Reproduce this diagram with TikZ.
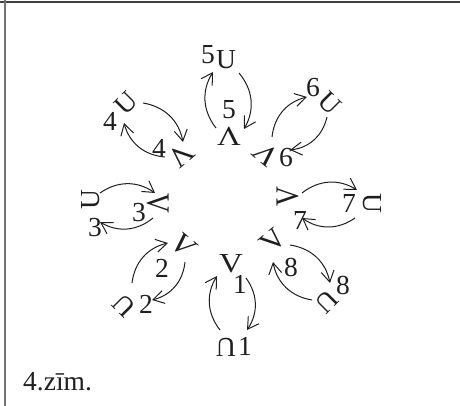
\documentclass[tikz,border=0pt]{standalone}
\usepackage{fontspec}
\setmainfont{Liberation Serif}
\usetikzlibrary{arrows.meta,calc}
\begin{document}
\begin{tikzpicture}[x=1pt,y=1pt,
  every node/.style={inner sep=0pt,font=\fontsize{27.5}{32}\selectfont,text=black!88},
  glyph/.style={},
  vglyph/.style={xscale=1.2},
  lbl/.style={},
  arr/.style={-{Straight Barb[length=11pt,width=13pt]},line width=1pt,black!88,bend left=35},
  frameline/.style={line width=1.8pt,black!75}]
\useasboundingbox (0,0) rectangle (460,-406);
\draw[frameline] (0,-2) -- (460,-2);
\draw[frameline,black!55] (5,0) -- (5,-406);
% outer U glyphs
\node[glyph,rotate=180]  (o1) at (226,-347) {U};
\node[glyph,rotate=135]  (o2) at (124,-306) {U};
\node[glyph,rotate=90]   (o3) at (91,-200)  {U};
\node[glyph,rotate=45]   (o4) at (126,-103) {U};
\node[glyph]             (o5) at (226,-60)  {U};
\node[glyph,rotate=-45]  (o6) at (330,-103) {U};
\node[glyph,rotate=-90]  (o7) at (372,-203) {U};
\node[glyph,rotate=-135] (o8) at (327,-302) {U};
% inner V glyphs
\node[glyph,vglyph]             (i1) at (231,-264) {V};
\node[glyph,vglyph,rotate=-45]  (i2) at (183,-245) {V};
\node[glyph,vglyph,rotate=-90]  (i3) at (158,-203) {V};
\node[glyph,vglyph,rotate=-135] (i4) at (181,-156) {V};
\node[glyph,vglyph,rotate=180]  (i5) at (229,-136) {V};
\node[glyph,vglyph,rotate=135]  (i6) at (267,-155) {V};
\node[glyph,vglyph,rotate=90]   (i7) at (288,-197) {V};
\node[glyph,vglyph,rotate=45]   (i8) at (273,-240) {V};
% outer labels
\node[lbl] (lo1) at (245,-346) {1};
\node[lbl] (lo2) at (146,-304) {2};
\node[lbl] (lo3) at (95,-228)  {3};
\node[lbl] (lo4) at (110,-121) {4};
\node[lbl] (lo5) at (208,-55)  {5};
\node[lbl] (lo6) at (313,-88)  {6};
\node[lbl] (lo7) at (349,-203) {7};
\node[lbl] (lo8) at (343,-285) {8};
% inner labels
\node[lbl] (li1) at (240,-284) {1};
\node[lbl] (li2) at (162,-268) {2};
\node[lbl] (li3) at (139,-213) {3};
\node[lbl] (li4) at (159,-148) {4};
\node[lbl] (li5) at (229,-110) {5};
\node[lbl] (li6) at (286,-158) {6};
\node[lbl] (li7) at (300,-220) {7};
\node[lbl] (li8) at (291,-267) {8};
% arrows
\draw[arr] ($(o1)+(-6,17)$) to ($(i1)+(-14,-12)$);
\draw[arr] ($(i1)+(15,-14)$) to ($(o1)+(21,17)$);
\draw[arr] ($(o2)+(8,23)$) to ($(i2)+(-15,2)$);
\draw[arr] ($(i2)+(2,-17)$) to ($(o2)+(28,6)$);
\draw[arr] ($(o3)+(9,7)$) to ($(i3)+(-3,10)$);
\draw[arr] ($(i3)+(-5,-15)$) to ($(o3)+(9,-22)$);
\draw[arr] ($(o4)+(17,0)$) to ($(i4)+(2,14)$);
\draw[arr] ($(i4)+(-16,-1)$) to ($(o4)+(-2,-20)$);
\draw[arr] ($(i5)+(-13,8)$) to ($(o5)+(-13,-12)$);
\draw[arr] ($(o5)+(13,-13)$) to ($(i5)+(15,7)$);
\draw[arr] ($(i6)+(5,18)$) to ($(o6)+(-23,6)$);
\draw[arr] ($(o6)+(-3,-14)$) to ($(i6)+(23,5)$);
\draw[arr] ($(i7)+(14,4)$) to ($(o7)+(-15,13)$);
\draw[arr] ($(o7)+(-17,-15)$) to ($(i7)+(14,-21)$);
\draw[arr] ($(i8)+(17,-5)$) to ($(o8)+(3,19)$);
\draw[arr] ($(o8)+(-15,2)$) to ($(i8)+(0,-22)$);
% caption
\node[anchor=base west] (cap) at (23,-390) {4.zīm.};
\end{tikzpicture}
\end{document}
